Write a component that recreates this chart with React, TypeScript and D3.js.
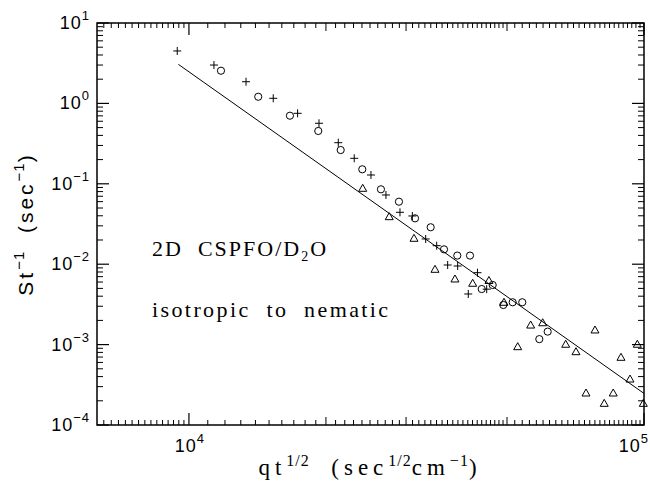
import React from 'react';
import * as d3 from 'd3';

// data
const plusX = [9425, 11350, 13350, 15320, 17330, 19310, 21290, 23080, 25120, 27100, 29090, 30970, 33130, 35030, 37030, 38950, 41100, 43060, 45110];
const plusY = [4.49, 3.0, 1.86, 1.157, 0.753, 0.566, 0.3245, 0.2075, 0.1287, 0.0726, 0.0442, 0.0398, 0.0206, 0.017, 0.00977, 0.0095, 0.00426, 0.00784, 0.00489];

const circleX = [11760, 14200, 16670, 19240, 21550, 24040, 26420, 28940, 31390, 33980, 36350, 38880, 41460, 46500, 43990, 49070, 51450, 54010, 61420, 58880];
const circleY = [2.55, 1.21, 0.703, 0.454, 0.263, 0.1515, 0.0854, 0.0599, 0.0372, 0.0288, 0.0153, 0.0128, 0.0128, 0.00551, 0.00491, 0.00311, 0.00336, 0.00336, 0.00145, 0.00117];

const triX = [24090, 27550, 31230, 34730, 38420, 42030, 45630, 49240, 52780, 56360, 59890, 67290, 70880, 78040, 74570, 81770, 85580, 89000, 93160, 96670, 99650];
const triY = [0.0879, 0.039, 0.021, 0.00864, 0.00655, 0.00579, 0.00627, 0.00336, 0.000942, 0.00175, 0.00187, 0.00101, 0.000816, 0.00152, 0.00025, 0.000186, 0.00025, 0.000695, 0.000373, 0.00101, 0.000186];

const fitX = [9480, 100000];
const fitY = [3.06, 2.47e-4];

const xLabelTicks = [1e4, 1e5];
const xMidTicks = [2e4, 3e4, 5e4];
const yLabelExps = [1, 0, -1, -2, -3, -4];

const left = 97, right = 644, top = 23, bottom = 425;

export default function App() {
  const x = d3.scaleLog().domain([6280, 1e5]).range([left, right]);
  const y = d3.scaleLog().domain([1e-4, 10]).range([bottom, top]);

  // the original x axis has linear-step minor ticks
  const xMinor = [
    ...d3.range(6500, 10000, 250),
    ...d3.range(11000, 50000, 1000).filter(v => !xMidTicks.includes(v)),
    ...d3.range(52000, 100000, 2000),
  ];
  const yMinor: number[] = [];
  yLabelExps.slice(1).forEach(e => {
    for (let k = 2; k <= 9; k++) yMinor.push(k * Math.pow(10, e));
  });

  const line = d3.line<number>().x((d, i) => x(fitX[i])).y((d, i) => y(fitY[i]));

  const sans = 'Liberation Sans, Arial, sans-serif';
  const serif = 'Liberation Serif, Times New Roman, serif';

  return (
    <svg width={650} height={484} style={{ position: 'absolute', left: 0, top: 0, background: '#fff' }}>
      <rect x={left} y={top} width={right - left} height={bottom - top} fill="none" stroke="#000" strokeWidth={1.5} />

      {/* x ticks, bottom and top */}
      {xMinor.map(v => (
        <g key={'xm' + v} stroke="#000" strokeWidth={1}>
          <line x1={x(v)} x2={x(v)} y1={bottom} y2={bottom - 5} />
          <line x1={x(v)} x2={x(v)} y1={top} y2={top + 5} />
        </g>
      ))}
      {xMidTicks.map(v => (
        <g key={'xd' + v} stroke="#000" strokeWidth={1}>
          <line x1={x(v)} x2={x(v)} y1={bottom} y2={bottom - 8} />
          <line x1={x(v)} x2={x(v)} y1={top} y2={top + 8} />
        </g>
      ))}
      {xLabelTicks.map(v => (
        <g key={'xl' + v} stroke="#000" strokeWidth={1.2}>
          <line x1={x(v)} x2={x(v)} y1={bottom} y2={bottom - 12} />
          <line x1={x(v)} x2={x(v)} y1={top} y2={top + 12} />
        </g>
      ))}

      {/* y ticks, left and right */}
      {yMinor.map(v => (
        <g key={'ym' + v} stroke="#000" strokeWidth={1}>
          <line x1={left} x2={left + 6} y1={y(v)} y2={y(v)} />
          <line x1={right} x2={right - 6} y1={y(v)} y2={y(v)} />
        </g>
      ))}
      {yLabelExps.map(e => (
        <g key={'yl' + e} stroke="#000" strokeWidth={1.2}>
          <line x1={left} x2={left + 12} y1={y(Math.pow(10, e))} y2={y(Math.pow(10, e))} />
          <line x1={right} x2={right - 12} y1={y(Math.pow(10, e))} y2={y(Math.pow(10, e))} />
        </g>
      ))}

      {/* tick labels */}
      {yLabelExps.map(e => (
        <text key={'ylt' + e} x={90} y={y(Math.pow(10, e)) + 6} textAnchor="end" fontFamily={sans} fontSize={18} letterSpacing={1}>
          10<tspan dy={-9} fontSize={13}>{e < 0 ? '\u2212' + Math.abs(e) : String(e)}</tspan>
        </text>
      ))}
      <text x={x(xLabelTicks[0]) + 1} y={452} textAnchor="middle" fontFamily={sans} fontSize={18} letterSpacing={1}>
        10<tspan dy={-9} fontSize={13}>4</tspan>
      </text>
      <text x={649} y={452} textAnchor="end" fontFamily={sans} fontSize={18} letterSpacing={1}>
        10<tspan dy={-9} fontSize={13}>5</tspan>
      </text>

      {/* axis titles */}
      <text x={370} y={475} textAnchor="middle" fontFamily={serif} fontSize={23} letterSpacing={5} style={{ whiteSpace: 'pre' }}>
        qt<tspan dy={-9} fontSize={16} letterSpacing={1}>1/2</tspan><tspan dy={9}>  (sec</tspan><tspan dy={-9} fontSize={16} letterSpacing={1}>1/2</tspan><tspan dy={9}>cm</tspan><tspan dy={-9} fontSize={16} letterSpacing={1}>{'\u22121'}</tspan><tspan dy={9}>)</tspan>
      </text>
      <text transform="translate(33,224) rotate(-90)" textAnchor="middle" fontFamily={sans} fontSize={21} letterSpacing={3} style={{ whiteSpace: 'pre' }}>
        St<tspan dy={-9} fontSize={15} letterSpacing={1}>{'\u22121'}</tspan><tspan dy={9}>  (sec</tspan><tspan dy={-9} fontSize={15} letterSpacing={1}>{'\u22121'}</tspan><tspan dy={9}>)</tspan>
      </text>

      {/* annotation */}
      <text x={152} y={256} fontFamily={serif} fontSize={22} letterSpacing={2} style={{ whiteSpace: 'pre' }}>
        2D  CSPFO/D<tspan dy={5} fontSize={14}>2</tspan><tspan dy={-5}>O</tspan>
      </text>
      <text x={152} y={317} fontFamily={serif} fontSize={22} letterSpacing={2.4} style={{ whiteSpace: 'pre' }}>
        isotropic  to  nematic
      </text>

      {/* fit line */}
      <path d={line(fitX) || ''} fill="none" stroke="#000" strokeWidth={1} />

      {/* data */}
      {plusX.map((v, i) => (
        <g key={'p' + i} stroke="#000" strokeWidth={1}>
          <line x1={x(v) - 4} x2={x(v) + 4} y1={y(plusY[i])} y2={y(plusY[i])} />
          <line x1={x(v)} x2={x(v)} y1={y(plusY[i]) - 4} y2={y(plusY[i]) + 4} />
        </g>
      ))}
      {circleX.map((v, i) => (
        <circle key={'c' + i} cx={x(v)} cy={y(circleY[i])} r={3.6} fill="none" stroke="#000" strokeWidth={1} />
      ))}
      {triX.map((v, i) => {
        const cx = x(v), cy = y(triY[i]);
        return (
          <path key={'t' + i} d={`M${cx},${cy - 4}L${cx + 4},${cy + 3}L${cx - 4},${cy + 3}Z`} fill="none" stroke="#000" strokeWidth={1} />
        );
      })}
    </svg>
  );
}
